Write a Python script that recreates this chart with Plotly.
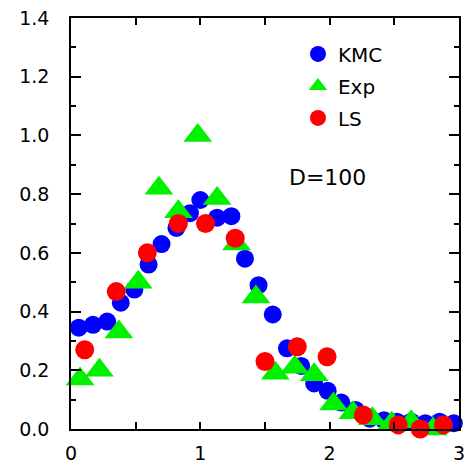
import plotly.graph_objects as go

# KMC (blue circles)
kmc_x = [0.06, 0.17, 0.28, 0.385, 0.49, 0.60, 0.70, 0.815, 0.92, 1.00, 1.13, 1.24,
         1.345, 1.45, 1.56, 1.67, 1.78, 1.88, 1.985, 2.09, 2.20, 2.31, 2.42, 2.52,
         2.63, 2.74, 2.85, 2.96]
kmc_y = [0.345, 0.355, 0.366, 0.43, 0.475, 0.56, 0.63, 0.685, 0.735, 0.78, 0.72, 0.725,
         0.58, 0.49, 0.39, 0.275, 0.215, 0.155, 0.13, 0.09, 0.065, 0.035, 0.03, 0.025,
         0.025, 0.02, 0.025, 0.02]

# Exp (green triangles)
exp_x = [0.07, 0.22, 0.37, 0.52, 0.68, 0.83, 0.98, 1.13, 1.28, 1.43, 1.58, 1.73,
         1.88, 2.03, 2.18, 2.33, 2.48, 2.63, 2.80]
exp_y = [0.17, 0.20, 0.33, 0.50, 0.82, 0.74, 1.00, 0.785, 0.63, 0.45, 0.19, 0.21,
         0.185, 0.085, 0.055, 0.035, 0.02, 0.025, 0.0]

# LS (red circles)
ls_x = [0.106, 0.35, 0.59, 0.83, 1.04, 1.27, 1.50, 1.75, 1.98, 2.26, 2.53, 2.70, 2.88]
ls_y = [0.27, 0.468, 0.60, 0.70, 0.70, 0.65, 0.23, 0.28, 0.246, 0.048, 0.014, 0.0, 0.014]

x_tickvals = [0, 0.5, 1, 1.5, 2, 2.5, 3]
x_ticktext = ["0", "", "1", "", "2", "", "3"]
y_tickvals = [0.0, 0.2, 0.4, 0.6, 0.8, 1.0, 1.2, 1.4]
y_ticktext = ["0.0", "0.2", "0.4", "0.6", "0.8", "1.0", "1.2", "1.4"]

FONT = "DejaVu Sans"

fig = go.Figure()
fig.add_trace(go.Scatter(x=kmc_x, y=kmc_y, mode="markers", name="KMC", legendgroup="a",
                         marker=dict(symbol="circle", size=18, color="#0000ff", line=dict(width=0)),
                         cliponaxis=False))
fig.add_trace(go.Scatter(x=exp_x, y=exp_y, mode="markers", name="Exp", legendgroup="b",
                         marker=dict(symbol="triangle-up", size=25, color="#00f000", line=dict(width=0)),
                         cliponaxis=False))
fig.add_trace(go.Scatter(x=ls_x, y=ls_y, mode="markers", name="LS", legendgroup="c",
                         marker=dict(symbol="circle", size=19, color="#ff0000", line=dict(width=0)),
                         cliponaxis=False))

fig.add_annotation(text="D=100", x=0.66, y=0.613, xref="paper", yref="paper",
                   xanchor="center", yanchor="middle", showarrow=False,
                   font=dict(family=FONT, size=22, color="black"))

fig.update_layout(
    width=465, height=467,
    margin=dict(l=71, r=0, t=18, b=38),
    paper_bgcolor="white", plot_bgcolor="white",
    showlegend=True,
    legend=dict(x=0.585, y=0.96, xanchor="left", yanchor="top",
                bgcolor="rgba(0,0,0,0)", font=dict(family=FONT, size=20, color="black"),
                tracegroupgap=3, itemsizing="trace"),
    font=dict(family=FONT, color="black"),
)
fig.update_xaxes(range=[0, 3], tickvals=x_tickvals, ticktext=x_ticktext,
                 ticks="inside", ticklen=7, tickwidth=1.5, tickcolor="black",
                 showline=True, linecolor="black", linewidth=1.5, mirror="allticks",
                 showgrid=False, zeroline=False, ticklabeloverflow="allow",
                 tickfont=dict(family=FONT, size=19, color="black"), ticklabelstandoff=6)
fig.update_yaxes(range=[0, 1.4], tickvals=y_tickvals, ticktext=y_ticktext,
                 ticks="inside", ticklen=10, tickwidth=1.5, tickcolor="black",
                 minor=dict(dtick=0.1, ticks="inside", ticklen=5, tickwidth=1.5, tickcolor="black"),
                 showline=True, linecolor="black", linewidth=1.5, mirror="allticks",
                 showgrid=False, zeroline=False,
                 tickfont=dict(family=FONT, size=19, color="black"), ticklabelstandoff=16)

fig.write_html("out.html")
